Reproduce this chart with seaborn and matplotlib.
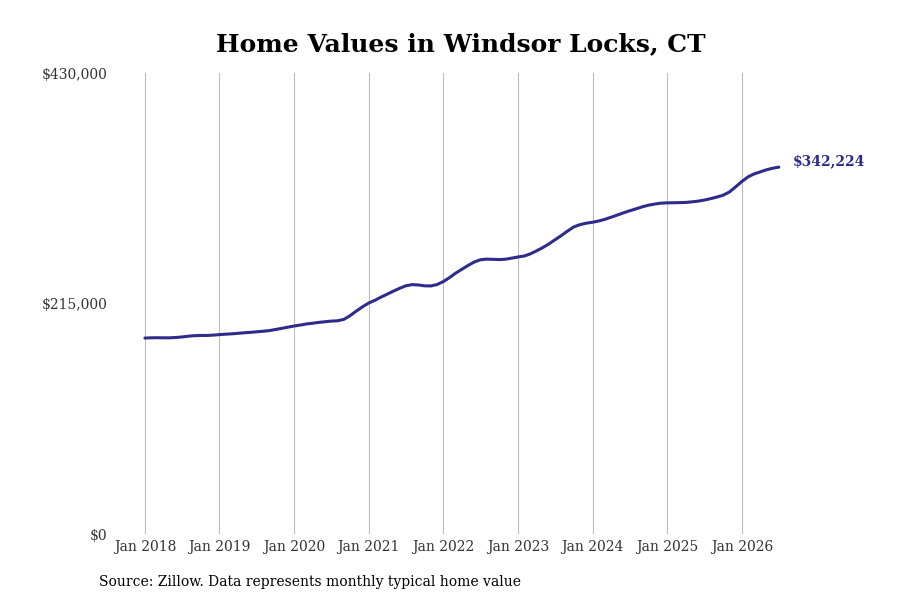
import matplotlib
matplotlib.use("Agg")
import matplotlib.pyplot as plt
import matplotlib.dates as mdates
import numpy as np
import pandas as pd
import seaborn as sns

# --- Data (monthly typical home value) ---------------------------------------
START_MONTH = "2018-01-01"
values_2018 = [182800, 183000, 183100, 183000, 183000, 183300, 183800, 184500, 185000, 185200, 185200, 185500]
values_2019 = [186000, 186400, 186700, 187200, 187700, 188100, 188600, 189100, 189700, 190700, 191800, 192900]
values_2020 = [194000, 194900, 195900, 196600, 197400, 198000, 198600, 198900, 200200, 203600, 208000, 211900]
values_2021 = [215500, 218100, 220900, 223700, 226500, 229200, 231500, 232600, 232300, 231500, 231400, 232700]
values_2022 = [235500, 239300, 243200, 246900, 250400, 253700, 255800, 256400, 256200, 256000, 256300, 257300]
values_2023 = [258400, 259300, 261200, 264000, 267000, 270500, 274400, 278400, 282600, 286400, 288600, 289900]
values_2024 = [290800, 292000, 293500, 295500, 297500, 299600, 301500, 303300, 305200, 306700, 307800, 308600]
values_2025 = [308900, 309000, 309100, 309300, 309800, 310500, 311500, 312800, 314300, 316000, 319000, 323700]
values_2026 = [328800, 333200, 335800, 337800, 339700, 341200, 342224]

tick_years = list(range(2018, 2027))
y_ticks = [0, 215000, 430000]
y_labels = ["$0", "$215,000", "$430,000"]

TITLE = "Home Values in Windsor Locks, CT"
SOURCE = "Source: Zillow. Data represents monthly typical home value"
LINE_COLOR = "#2e2b8c"

values = (values_2018 + values_2019 + values_2020 + values_2021 + values_2022
          + values_2023 + values_2024 + values_2025 + values_2026)
df = pd.DataFrame({
    "date": pd.date_range(START_MONTH, periods=len(values), freq="MS"),
    "value": values,
})

# --- Plot ---------------------------------------------------------------------
sns.set_style("white")
plt.rcParams["font.family"] = ["DejaVu Serif"]

fig = plt.figure(figsize=(9, 6), dpi=100)
ax = fig.add_axes([0.129, 0.11, 0.767, 0.7683])

sns.lineplot(data=df, x="date", y="value", color=LINE_COLOR, linewidth=2.2, ax=ax)

ax.set_ylim(0, 430000)
ax.set_xlim(pd.Timestamp("2017-08-13"), pd.Timestamp("2026-11-13"))

ax.set_yticks(y_ticks)
ax.set_yticklabels(y_labels)
ax.set_xticks([pd.Timestamp(f"{y}-01-01") for y in tick_years])
ax.xaxis.set_major_formatter(mdates.DateFormatter("Jan %Y"))

ax.tick_params(axis="both", length=0, labelsize=10, colors="#333333")
ax.tick_params(axis="y", pad=6)
ax.tick_params(axis="x", pad=4)

ax.grid(axis="x", color="#bdbdbd", linewidth=0.8)
ax.grid(axis="y", visible=False)
sns.despine(ax=ax, left=True, bottom=True)

ax.set_xlabel("")
ax.set_ylabel("")
ax.set_title(TITLE, fontsize=18, fontweight="bold", pad=16, color="black")

# end label
last = df.iloc[-1]
ax.annotate(f"${last['value']:,.0f}", xy=(last["date"], last["value"]),
            xytext=(10, 4), textcoords="offset points",
            ha="left", va="center", fontsize=10, fontweight="bold", color=LINE_COLOR)

fig.text(0.11, 0.03, SOURCE, ha="left", va="center", fontsize=10, color="black")

fig.savefig("out.png", dpi=100)
